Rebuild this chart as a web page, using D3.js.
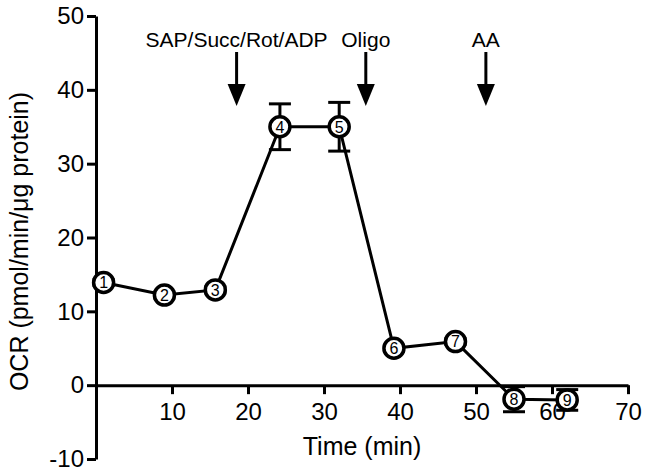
<!DOCTYPE html>
<html>
<head>
<meta charset="utf-8">
<script src="https://cdn.jsdelivr.net/npm/d3@7"></script>
<style>
  html, body { margin: 0; padding: 0; background: #fff; }
  svg { display: block; font-family: "Liberation Sans", Arial, sans-serif; }
</style>
</head>
<body>
<svg id="chart" width="649" height="475"></svg>
<script>
// ---- data ----
const timeMin = [1, 9, 15.7, 24.2, 32, 39.2, 47.3, 55, 62];
const ocr     = [13.9, 12.2, 12.9, 35.0, 35.0, 5.0, 5.9, -1.9, -2.0];
const ocrErr  = [0.4, 0.4, 0.4, 3.1, 3.3, 0.4, 0.4, 1.7, 1.4];
const pointLabels = ["1","2","3","4","5","6","7","8","9"];
const injectionTimes  = [18.5, 35.5, 51.3];
const injectionLabels = ["SAP/Succ/Rot/ADP", "Oligo", "AA"];
const xTicks = [10, 20, 30, 40, 50, 60, 70];
const yTicks = [-10, 0, 10, 20, 30, 40, 50];
const xTitle = "Time (min)";
const yTitle = "OCR (pmol/min/\u03bcg protein)";

// ---- layout ----
const svg = d3.select("#chart");
const x = d3.scaleLinear().domain([0, 70]).range([96, 628]);
const y = d3.scaleLinear().domain([-10, 50]).range([459, 16]);

// axes
const xAxis = d3.axisBottom(x).tickValues(xTicks).tickSize(9).tickSizeOuter(0).tickPadding(9).tickFormat(d => String(d));
const yAxis = d3.axisLeft(y).tickValues(yTicks).tickSize(9).tickSizeOuter(0).tickPadding(3).tickFormat(d => String(d));

const gx = svg.append("g").attr("transform", `translate(0,${y(0)})`).call(xAxis);
const gy = svg.append("g").attr("transform", `translate(${x(0)},0)`).call(yAxis);
[gx, gy].forEach(g => {
  g.select(".domain").attr("stroke", "#000").attr("stroke-width", 3);
  g.selectAll(".tick line").attr("stroke", "#000").attr("stroke-width", 3);
  g.selectAll(".tick text").attr("fill", "#000").style("font-size", "24px")
    .style("font-family", "'Liberation Sans', Arial, sans-serif");
});

// axis titles
svg.append("text").attr("x", (x(0) + x(70)) / 2).attr("y", 455)
  .attr("text-anchor", "middle").style("font-size", "25px").text(xTitle);
svg.append("text").attr("transform", `translate(28,${(y(-10) + y(50)) / 2 + 4}) rotate(-90)`)
  .attr("text-anchor", "middle").style("font-size", "25px").text(yTitle);

// injection annotations
const ann = svg.append("g");
injectionTimes.forEach((t, i) => {
  const cx = x(t);
  ann.append("text").attr("x", cx).attr("y", 47).attr("text-anchor", "middle")
    .style("font-size", "21px").text(injectionLabels[i]);
  ann.append("line").attr("x1", cx).attr("x2", cx).attr("y1", 52).attr("y2", 87)
    .attr("stroke", "#000").attr("stroke-width", 3);
  ann.append("path").attr("d", `M${cx - 9},84 L${cx + 9},84 L${cx},106 Z`).attr("fill", "#000");
});

// connecting line
const pts = timeMin.map((t, i) => [t, ocr[i], ocrErr[i], pointLabels[i]]);
svg.append("path").datum(pts)
  .attr("d", d3.line().x(d => x(d[0])).y(d => y(d[1])))
  .attr("fill", "none").attr("stroke", "#000").attr("stroke-width", 3);

// error bars
const eb = svg.append("g").selectAll("g").data(pts).join("g").attr("stroke", "#000").attr("stroke-width", 3);
eb.append("line").attr("x1", d => x(d[0])).attr("x2", d => x(d[0]))
  .attr("y1", d => y(d[1] + d[2])).attr("y2", d => y(d[1] - d[2]));
eb.append("line").attr("x1", d => x(d[0]) - 11).attr("x2", d => x(d[0]) + 11)
  .attr("y1", d => y(d[1] + d[2])).attr("y2", d => y(d[1] + d[2]));
eb.append("line").attr("x1", d => x(d[0]) - 11).attr("x2", d => x(d[0]) + 11)
  .attr("y1", d => y(d[1] - d[2])).attr("y2", d => y(d[1] - d[2]));

// markers
const mk = svg.append("g").selectAll("g").data(pts).join("g")
  .attr("transform", d => `translate(${x(d[0])},${y(d[1])})`);
mk.append("circle").attr("r", 10).attr("fill", "#fff").attr("stroke", "#000").attr("stroke-width", 3.5);
mk.append("text").attr("text-anchor", "middle").attr("dy", "0.36em")
  .style("font-size", "16px").text(d => d[3]);
</script>
</body>
</html>
